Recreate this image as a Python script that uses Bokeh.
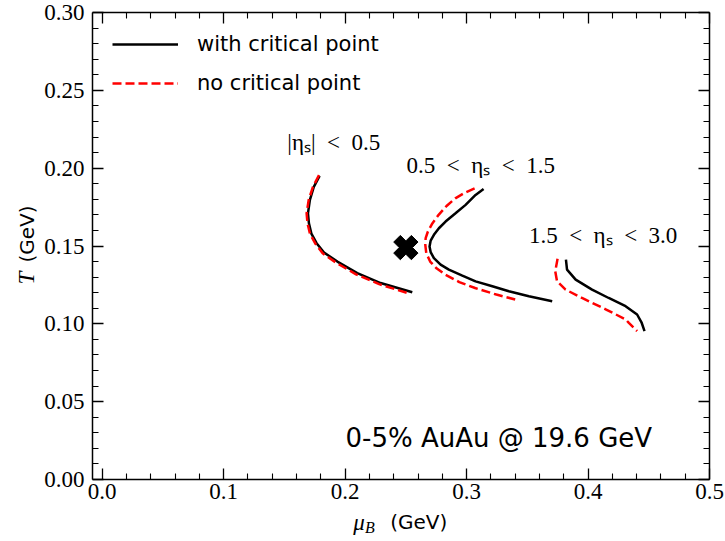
import math
from bokeh.plotting import figure
from bokeh.layouts import row, column
from bokeh.models import (Range1d, LinearAxis, FixedTicker, PrintfTickFormatter,
                          Label, Legend, LegendItem, ColumnDataSource)
from bokeh.embed import file_html
from bokeh.resources import INLINE
from bokeh.core.properties import value

# ---------------- data ----------------
# |eta_s| < 0.5
eta1_with_mu = [0.179, 0.1742, 0.171, 0.1694, 0.1702, 0.1722, 0.1765, 0.1826, 0.1936, 0.210, 0.2292, 0.2553]
eta1_with_T = [0.195, 0.188, 0.1796, 0.171, 0.1646, 0.158, 0.1518, 0.1458, 0.140, 0.1326, 0.1262, 0.1203]
eta1_no_mu = [0.1785, 0.1735, 0.170, 0.1683, 0.169, 0.171, 0.1755, 0.1815, 0.1925, 0.209, 0.228, 0.2525]
eta1_no_T = [0.1955, 0.188, 0.1796, 0.171, 0.1646, 0.158, 0.1515, 0.1453, 0.1393, 0.1318, 0.1255, 0.1195]

# 0.5 < eta_s < 1.5
eta2_with_mu = [0.314, 0.3074, 0.2992, 0.2909, 0.2827, 0.2772, 0.2731, 0.2704, 0.2695, 0.2704,
                0.2731, 0.2786, 0.2854, 0.2965, 0.3074, 0.3212, 0.3348, 0.3513, 0.3705]
eta2_with_T = [0.1866, 0.1828, 0.1764, 0.171, 0.1657, 0.1614, 0.1572, 0.1534, 0.1497, 0.1461,
               0.1422, 0.138, 0.1348, 0.131, 0.1273, 0.1241, 0.1209, 0.1177, 0.1145]
eta2_no_mu = [0.3066, 0.2985, 0.2907, 0.2835, 0.277, 0.2718, 0.268, 0.2663, 0.266, 0.2668,
              0.270, 0.2755, 0.2825, 0.294, 0.307, 0.3245, 0.343]
eta2_no_T = [0.187, 0.1842, 0.1806, 0.1757, 0.170, 0.1645, 0.159, 0.155, 0.1508, 0.1454,
             0.140, 0.1355, 0.1316, 0.1268, 0.123, 0.1188, 0.115]

# 1.5 < eta_s < 3.0
eta3_with_mu = [0.3818, 0.3827, 0.3898, 0.4033, 0.417, 0.4309, 0.4404, 0.444, 0.4465]
eta3_with_T = [0.1412, 0.1348, 0.1284, 0.122, 0.1166, 0.1113, 0.106, 0.101, 0.0953]
eta3_no_mu = [0.3749, 0.373, 0.3745, 0.3815, 0.395, 0.4149, 0.431, 0.4336, 0.4404]
eta3_no_T = [0.1418, 0.1337, 0.1273, 0.122, 0.1166, 0.1092, 0.1028, 0.1006, 0.0953]

# critical point
cp_mu = [0.25]
cp_T = [0.149]

# region labels (en spaces around "<" mimic TeX math spacing)
region_text = ["|ηₛ|\u2002<\u20020.5", "0.5\u2002<\u2002ηₛ\u2002<\u20021.5", "1.5\u2002<\u2002ηₛ\u2002<\u20023.0"]
region_mu = [0.1524, 0.2506, 0.3513]
region_T = [0.2162, 0.2015, 0.1567]

legend_labels = ["with critical point", "no critical point"]
annotation_text = "0-5% AuAu @ 19.6 GeV"

x_major = [0.0, 0.1, 0.2, 0.3, 0.4, 0.5]
x_minor = [0.02, 0.04, 0.06, 0.08, 0.12, 0.14, 0.16, 0.18, 0.22, 0.24, 0.26, 0.28,
           0.32, 0.34, 0.36, 0.38, 0.42, 0.44, 0.46, 0.48]
y_major = [0.0, 0.05, 0.10, 0.15, 0.20, 0.25, 0.30]
y_minor = [0.01, 0.02, 0.03, 0.04, 0.06, 0.07, 0.08, 0.09, 0.11, 0.12, 0.13, 0.14,
           0.16, 0.17, 0.18, 0.19, 0.21, 0.22, 0.23, 0.24, 0.26, 0.27, 0.28, 0.29]

SERIF = "Liberation Serif"
SANS = "DejaVu Sans"

YLAB_W = 40
MAIN_W, MAIN_H = 684, 509
XLAB_H = 31

# ---------------- main figure ----------------
p = figure(width=MAIN_W, height=MAIN_H, output_backend="svg", toolbar_location=None,
           x_range=Range1d(-0.008, 0.5), y_range=Range1d(0.0, 0.3),
           x_axis_type=None, y_axis_type=None,
           min_border_left=52, min_border_right=15, min_border_top=12, min_border_bottom=30)
p.outline_line_color = None
p.background_fill_color = "white"
p.border_fill_color = "white"


def make_axis(major, minor, fmt, show, standoff=6):
    ax = LinearAxis(ticker=FixedTicker(ticks=major, minor_ticks=minor),
                    formatter=PrintfTickFormatter(format=fmt))
    ax.major_tick_in = 11
    ax.major_tick_out = 0
    ax.minor_tick_in = 6
    ax.minor_tick_out = 0
    ax.axis_line_color = "black"
    ax.axis_line_width = 1.5
    ax.major_tick_line_color = "black"
    ax.major_tick_line_width = 1.3
    ax.minor_tick_line_color = "black"
    ax.minor_tick_line_width = 1.1
    if show:
        ax.major_label_text_font = SERIF
        ax.major_label_text_font_size = "23px"
        ax.major_label_text_color = "black"
        ax.major_label_standoff = standoff
    else:
        ax.major_label_text_color = None
        ax.major_label_text_font_size = "0px"
        ax.major_label_standoff = 0
    return ax


p.add_layout(make_axis(x_major, x_minor, "%.1f", True, 4), "below")
p.add_layout(make_axis(y_major, y_minor, "%.2f", True, 8), "left")
p.add_layout(make_axis(x_major, x_minor, "%.1f", False), "above")
p.add_layout(make_axis(y_major, y_minor, "%.2f", False), "right")

LW = 2.5
DASH = "9 4"
r_with = p.line(eta1_with_mu, eta1_with_T, line_color="black", line_width=LW)
p.line(eta2_with_mu, eta2_with_T, line_color="black", line_width=LW)
p.line(eta3_with_mu, eta3_with_T, line_color="black", line_width=LW)
r_no = p.line(eta1_no_mu, eta1_no_T, line_color="red", line_width=LW, line_dash=DASH)
p.line(eta2_no_mu, eta2_no_T, line_color="red", line_width=LW, line_dash=DASH)
p.line(eta3_no_mu, eta3_no_T, line_color="red", line_width=LW, line_dash=DASH)

p.scatter(cp_mu, cp_T, marker="plus", size=25, angle=math.pi / 4,
          fill_color="black", line_color="black")

src = ColumnDataSource(dict(x=region_mu, y=region_T, t=region_text))
p.text(x="x", y="y", text="t", source=src, text_font=value(SERIF),
       text_font_size="23px", text_color="black", text_align="left",
       text_baseline="middle")

legend = Legend(items=[LegendItem(label=legend_labels[0], renderers=[r_with]),
                       LegendItem(label=legend_labels[1], renderers=[r_no])],
                location="top_left")
legend.border_line_color = None
legend.background_fill_alpha = 0
legend.label_text_font = SANS
legend.label_text_font_size = "21px"
legend.label_text_color = "black"
legend.glyph_width = 66
legend.glyph_height = 20
legend.label_height = 20
legend.label_standoff = 19
legend.spacing = 15
legend.padding = 0
legend.margin = 20
p.add_layout(legend)

p.add_layout(Label(x=253, y=42, x_units="screen", y_units="screen", text=annotation_text,
                   text_font=SANS, text_font_size="26px", text_color="black",
                   text_align="left", text_baseline="middle"))

# ---------------- x-axis label strip: mu_B (GeV) ----------------
xl = figure(width=MAIN_W, height=XLAB_H, output_backend="svg", toolbar_location=None,
            x_range=Range1d(0, MAIN_W), y_range=Range1d(0, XLAB_H),
            x_axis_type=None, y_axis_type=None, min_border=0)
xl.outline_line_color = None
xl.grid.visible = False
xl.text(x=[289], y=[18], text=["μ"], text_font=value(SERIF), text_font_style="italic",
        text_font_size="23px", text_color="black", text_align="left", text_baseline="middle")
xl.text(x=[302], y=[13], text=["B"], text_font=value(SERIF), text_font_style="italic",
        text_font_size="16px", text_color="black", text_align="left", text_baseline="middle")
xl.text(x=[330], y=[19], text=["(GeV)"], text_font=value(SANS),
        text_font_size="20px", text_color="black", text_align="left", text_baseline="middle")

# ---------------- y-axis label strip: T (GeV) ----------------
TOTAL_H = MAIN_H + XLAB_H
yl = figure(width=YLAB_W, height=TOTAL_H, output_backend="svg", toolbar_location=None,
            x_range=Range1d(0, YLAB_W), y_range=Range1d(0, TOTAL_H),
            x_axis_type=None, y_axis_type=None, min_border=0)
yl.outline_line_color = None
yl.grid.visible = False
yl.text(x=[26], y=[256], text=["T"], text_font=value(SERIF), text_font_style="italic",
        text_font_size="23px", text_color="black", angle=math.pi / 2,
        text_align="left", text_baseline="middle")
yl.text(x=[26], y=[278], text=["(GeV)"], text_font=value(SANS),
        text_font_size="20px", text_color="black", angle=math.pi / 2,
        text_align="left", text_baseline="middle")

layout = row(yl, column(p, xl, spacing=0), spacing=0)
open("out.html", "w").write(file_html(layout, INLINE))
